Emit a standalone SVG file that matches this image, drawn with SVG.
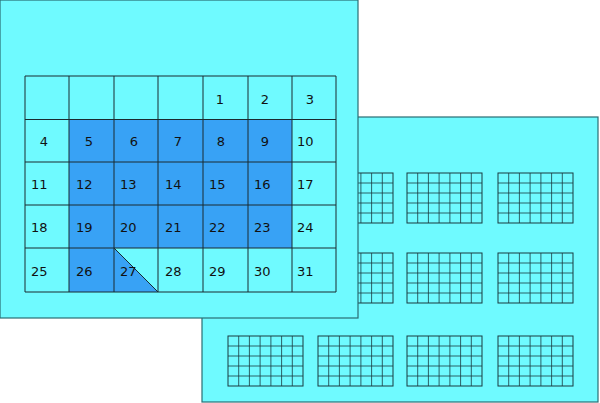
<svg xmlns="http://www.w3.org/2000/svg" xmlns:xlink="http://www.w3.org/1999/xlink" width="600" height="403" viewBox="0 0 600 403">
<style>
.panel{fill:#6ffaff;stroke:#2a6d73;stroke-width:1.2}
.cell{fill:none;stroke:#1a2a30;stroke-width:1}
.t{font-family:"DejaVu Sans",sans-serif;font-size:13px;fill:#111}
.m{font-family:"DejaVu Sans",sans-serif;font-size:13px;fill:#111;text-anchor:middle}
</style>
<defs>
<g id="mini">
<rect x="0" y="0" width="75" height="50" fill="none" stroke="#1a3a40" stroke-width="1"/>
<path d="M10.7 0V50M21.4 0V50M32.1 0V50M42.9 0V50M53.6 0V50M64.3 0V50M0 10H75M0 20H75M0 30H75M0 40H75" stroke="#1a3a40" stroke-width="0.8" fill="none"/>
</g>
</defs>
<g id="back">
<rect class="panel" x="202" y="117" width="396" height="285"/>
<use xlink:href="#mini" x="228" y="173"/><use xlink:href="#mini" x="318" y="173"/><use xlink:href="#mini" x="407" y="173"/><use xlink:href="#mini" x="498" y="173"/>
<use xlink:href="#mini" x="228" y="253"/><use xlink:href="#mini" x="318" y="253"/><use xlink:href="#mini" x="407" y="253"/><use xlink:href="#mini" x="498" y="253"/>
<use xlink:href="#mini" x="228" y="336"/><use xlink:href="#mini" x="318" y="336"/><use xlink:href="#mini" x="407" y="336"/><use xlink:href="#mini" x="498" y="336"/>
</g>
<g id="front">
<rect class="panel" x="0" y="0" width="358" height="318"/>
<rect x="69" y="119.5" width="223" height="128.5" fill="#38a2f5"/>
<rect x="69" y="248" width="45" height="44" fill="#38a2f5"/>
<polygon points="114,248 158,292 114,292" fill="#38a2f5"/>
<line x1="114" y1="248" x2="158" y2="292" stroke="#1a2a30" stroke-width="1"/>
<path class="cell" d="M25 76H336V292H25ZM69 76V292M114 76V292M158 76V292M203 76V292M248 76V292M292 76V292M25 119.5H336M25 162H336M25 205H336M25 248H336"/>
<g>
<text class="m" x="220" y="104">1</text><text class="m" x="265" y="104">2</text><text class="m" x="310" y="104">3</text>
<text class="m" x="44" y="146">4</text><text class="m" x="89" y="146">5</text><text class="m" x="134" y="146">6</text><text class="m" x="178" y="146">7</text><text class="m" x="221" y="146">8</text><text class="m" x="265" y="146">9</text><text class="t" x="297" y="146">10</text>
<text class="t" x="31" y="189">11</text><text class="t" x="76" y="189">12</text><text class="t" x="120" y="189">13</text><text class="t" x="165" y="189">14</text><text class="t" x="209" y="189">15</text><text class="t" x="254" y="189">16</text><text class="t" x="297" y="189">17</text>
<text class="t" x="31" y="232">18</text><text class="t" x="76" y="232">19</text><text class="t" x="120" y="232">20</text><text class="t" x="165" y="232">21</text><text class="t" x="209" y="232">22</text><text class="t" x="254" y="232">23</text><text class="t" x="297" y="232">24</text>
<text class="t" x="31" y="276">25</text><text class="t" x="76" y="276">26</text><text class="t" x="120" y="276">27</text><text class="t" x="165" y="276">28</text><text class="t" x="209" y="276">29</text><text class="t" x="254" y="276">30</text><text class="t" x="297" y="276">31</text>
</g>
</g>
</svg>
